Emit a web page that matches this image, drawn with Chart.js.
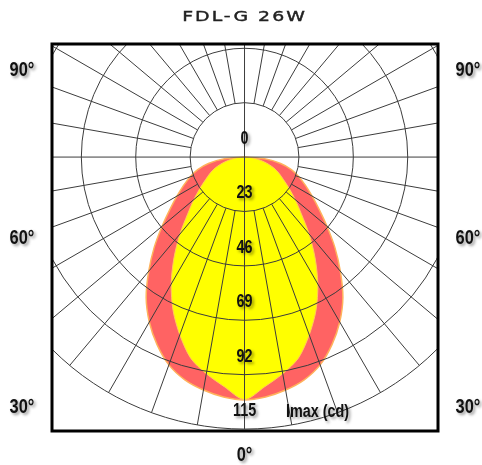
<!DOCTYPE html>
<html>
<head>
<meta charset="utf-8">
<script src="https://cdn.jsdelivr.net/npm/chart.js@4/dist/chart.umd.min.js"></script>
<style>
  html, body { margin: 0; padding: 0; background: #fff; }
  canvas { display: block; }
</style>
</head>
<body>
<canvas id="polar" width="482" height="465"></canvas>
<script>
// ==================== DONNÉES ====================
const title = "FDL-G 26W";
// angle from nadir (0° = straight down), degrees
const angles = [0, 5, 10, 15, 20, 25, 30, 35, 40, 45, 50, 55, 60, 65, 70, 75, 80, 85, 90];
// C0-C180 plane (red, wide)
const planeRed = [102.7, 101.8, 100, 97.5, 93.5, 87.5, 80.5, 72.5, 63, 54, 45.5, 38.5, 33, 28.5, 24.5, 20.5, 15.5, 8.5, 0];
// C90-C270 plane (yellow, narrow)
const planeYellow = [102.5, 97.5, 93, 88, 80, 71.5, 62, 52, 42.5, 34, 28, 23, 19, 16, 13, 9.5, 6, 3, 0];
// intensity rings (cd) and their labels
const ringValues = [0, 23, 46, 69, 92, 115];
const ringLabels = ["0", "23", "46", "69", "92", "115"];
const unitLabel = "Imax (cd)";
const angleLabels = ["90°", "60°", "30°"];
const bottomLabel = "0°";

// ==================== HELPERS ====================
function polar(deg, v) {
    const a = deg * Math.PI / 180;
    return { x: v * Math.sin(a), y: -v * Math.cos(a) };
}

function outline(values) {
    const pts = [];
    for (let i = angles.length - 1; i >= 0; i--) pts.push(polar(-angles[i], values[i]));
    for (let i = 1; i < angles.length; i++) pts.push(polar(angles[i], values[i]));
    return pts;
}

// texte condensé avec ombre (police étroite simulée par un scale horizontal)
function shadowText(ctx, text, x, y, size, squeeze) {
    ctx.save();
    ctx.translate(x, y);
    ctx.scale(squeeze, 1);
    ctx.font = "bold " + size + "px 'Liberation Sans', Arial, sans-serif";
    ctx.textAlign = "center";
    ctx.textBaseline = "middle";
    ctx.shadowColor = "rgba(0, 0, 0, 0.4)";
    ctx.shadowBlur = 3;
    ctx.shadowOffsetX = 2;
    ctx.shadowOffsetY = 2;
    ctx.fillStyle = "#111";
    ctx.fillText(text, 0, 0);
    ctx.restore();
}

// ==================== PLUGIN GRILLE POLAIRE ====================
const polarGrid = {
    id: "polarGrid",
    afterDatasetsDraw(chart) {
        const { ctx, chartArea: area, scales: { x, y } } = chart;
        const cx = x.getPixelForValue(0);
        const cy = y.getPixelForValue(0);
        const k = x.getPixelForValue(1) - cx;
        const rMax = ringValues[ringValues.length - 1];

        ctx.save();
        ctx.beginPath();
        ctx.rect(area.left, area.top, area.right - area.left, area.bottom - area.top);
        ctx.clip();
        ctx.strokeStyle = "#3c3c3c";
        ctx.lineWidth = 1;

        // rings
        ringValues.slice(1).forEach(v => {
            ctx.beginPath();
            ctx.arc(cx, cy, v * k, 0, Math.PI * 2);
            ctx.stroke();
        });

        // spokes every 10°, starting at the first ring (axes go through the centre)
        for (let deg = 0; deg < 360; deg += 10) {
            const a = deg * Math.PI / 180;
            const r0 = deg % 90 === 0 ? 0 : ringValues[1];
            ctx.beginPath();
            ctx.moveTo(cx + Math.sin(a) * r0 * k, cy + Math.cos(a) * r0 * k);
            ctx.lineTo(cx + Math.sin(a) * rMax * k, cy + Math.cos(a) * rMax * k);
            ctx.stroke();
        }
        ctx.restore();

        // intensity labels
        ringValues.forEach((v, i) => {
            shadowText(ctx, ringLabels[i], cx, cy + v * k - 18, 18, 0.8);
        });
        shadowText(ctx, unitLabel, cx + 73, cy + rMax * k - 17, 18, 0.8);
    },
    afterDraw(chart) {
        const { ctx, chartArea: area, scales: { x } } = chart;
        const cx = x.getPixelForValue(0);

        // cadre
        ctx.save();
        ctx.strokeStyle = "#000";
        ctx.lineWidth = 3;
        ctx.strokeRect(area.left, area.top, area.right - area.left, area.bottom - area.top);
        ctx.restore();

        // side angle labels
        const gap = (area.bottom - area.top - 50) / (angleLabels.length - 1);
        angleLabels.forEach((t, i) => {
            const yy = area.top + 26 + i * gap;
            shadowText(ctx, t, area.left - 30, yy, 20, 0.82);
            shadowText(ctx, t, area.right + 30, yy, 20, 0.82);
        });
        shadowText(ctx, bottomLabel, cx, area.bottom + 24, 20, 0.82);

        // titre (police large simulée)
        ctx.save();
        ctx.translate(cx, 17);
        ctx.scale(1.35, 1);
        ctx.font = "14px 'DejaVu Sans', sans-serif";
        ctx.letterSpacing = "1.5px";
        ctx.textAlign = "center";
        ctx.textBaseline = "middle";
        ctx.fillStyle = "#222";
        ctx.strokeStyle = "#222";
        ctx.lineWidth = 0.4;
        ctx.fillText(title, 0, 0);
        ctx.strokeText(title, 0, 0);
        ctx.restore();
    }
};

// ==================== CHART ====================
new Chart(document.getElementById("polar").getContext("2d"), {
    type: "scatter",
    data: {
        datasets: [
            {
                label: "C90-C270",
                data: outline(planeYellow),
                showLine: true,
                fill: "shape",
                backgroundColor: "#ffff00",
                borderColor: "#ffc95a",
                borderWidth: 1,
                pointRadius: 0,
                tension: 0.3,
                order: 1
            },
            {
                label: "C0-C180",
                data: outline(planeRed),
                showLine: true,
                fill: "shape",
                backgroundColor: "#ff6363",
                borderColor: "#ffb25c",
                borderWidth: 1.5,
                pointRadius: 0,
                tension: 0.3,
                order: 2
            }
        ]
    },
    options: {
        responsive: false,
        animation: false,
        events: [],
        layout: { padding: { left: 52, right: 44, top: 44, bottom: 34 } },
        plugins: {
            legend: { display: false },
            tooltip: { enabled: false }
        },
        scales: {
            x: { type: "linear", min: -81.4, max: 81.8, display: false },
            y: { type: "linear", min: -115.8, max: 47.8, display: false }
        }
    },
    plugins: [polarGrid]
});
</script>
</body>
</html>
